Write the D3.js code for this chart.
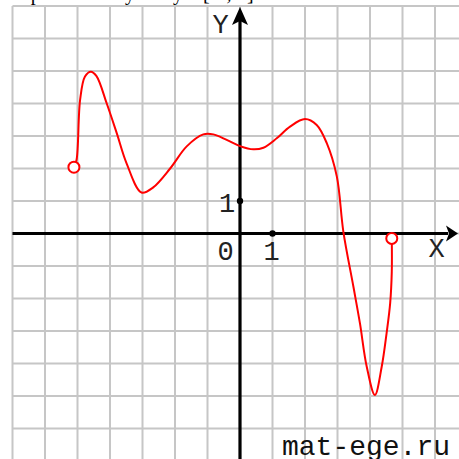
<!DOCTYPE html>
<html>
<head>
<meta charset="utf-8">
<script src="https://cdn.jsdelivr.net/npm/d3@7"></script>
<style>
  body { margin: 0; background: #fff; }
  svg { display: block; }
</style>
</head>
<body>
<svg id="chart"></svg>
<script>
let size = {width: 459, height: 459};

// curve (x, y in grid units)
const curveX = [-5.11, -5.03, -4.92, -4.77, -4.59, -4.42, -4.10, -3.79, -3.49, -3.03, -2.67, -2.15, -1.64, -1.13, -0.82, -0.41, 0.00, 0.41, 0.72, 1.13, 1.54, 2.00, 2.36, 2.67, 2.98, 3.18, 3.49, 3.69, 3.90, 4.15, 4.36, 4.51, 4.62, 4.67, 4.67];
const curveY = [2.04, 2.26, 4.11, 4.83, 4.98, 4.85, 4.00, 3.08, 2.16, 1.26, 1.42, 2.00, 2.68, 3.05, 3.05, 2.88, 2.69, 2.59, 2.64, 2.93, 3.29, 3.52, 3.34, 2.78, 1.75, 0.06, -1.64, -2.76, -4.10, -4.97, -4.10, -3.07, -2.15, -1.18, -0.15];

// open end points
const openX = [-5.11, 4.67];
const openY = [2.04, -0.15];

const gridTicks = d3.range(-7, 8);

// cut-off line of the task text at the very top
const headWords = ["при", "у", "у", "[-5; 5]"];
const headPos = [20, 125, 173, 203];

let svg = d3.select("#chart")
    .attr("width", size.width)
    .attr("height", size.height);

let x = d3.scaleLinear().domain([-7, 7]).range([12.5, 467.5]);
let y = d3.scaleLinear().domain([-7, 7]).range([461, 6]);

/* ---- grid ---- */
let grid = svg.append("g")
    .attr("stroke", "#c6c6c6")
    .attr("stroke-width", 2);

grid.selectAll(".vline")
    .data(gridTicks)
    .join("line")
    .attr("x1", d => x(d)).attr("x2", d => x(d))
    .attr("y1", y(7)).attr("y2", size.height);

grid.selectAll(".hline")
    .data(gridTicks)
    .join("line")
    .attr("y1", d => y(d)).attr("y2", d => y(d))
    .attr("x1", x(-7)).attr("x2", size.width);

/* ---- header text (only descenders are visible) ---- */
svg.selectAll(".head")
    .data(headWords)
    .join("text")
    .attr("x", (d, i) => headPos[i])
    .attr("y", 0)
    .attr("font-family", "Liberation Serif")
    .attr("font-size", 20)
    .attr("fill", "#000")
    .text(d => d);

/* ---- axes ---- */
let axes = svg.append("g").attr("stroke", "#000").attr("stroke-width", 3.2);
axes.append("line")
    .attr("x1", x(-7)).attr("x2", 448)
    .attr("y1", y(0)).attr("y2", y(0));
axes.append("line")
    .attr("x1", x(0)).attr("x2", x(0))
    .attr("y1", size.height).attr("y2", 20);

// arrow heads
svg.append("path")
    .attr("d", `M458,${y(0)} L446,${y(0) - 8} L449,${y(0)} L446,${y(0) + 8} Z`)
    .attr("fill", "#000");
svg.append("path")
    .attr("d", `M${x(0)},7 L${x(0) - 8},25 L${x(0)},21 L${x(0) + 8},25 Z`)
    .attr("fill", "#000");

// unit ticks
svg.append("circle").attr("cx", x(1)).attr("cy", y(0)).attr("r", 3.2).attr("fill", "#000");
svg.append("circle").attr("cx", x(0)).attr("cy", y(1)).attr("r", 3.2).attr("fill", "#000");

/* ---- labels ---- */
const labelFont = "Liberation Mono";
let labels = [
    {t: "Y", x: 220.5, y: 33},
    {t: "X", x: 436.5, y: 257},
    {t: "0", x: 225.5, y: 260},
    {t: "1", x: 271.5, y: 260},
    {t: "1", x: 227, y: 212}
];
svg.selectAll(".lbl")
    .data(labels)
    .join("text")
    .attr("x", d => d.x)
    .attr("y", d => d.y)
    .attr("text-anchor", "middle")
    .attr("font-family", labelFont)
    .attr("font-size", 27)
    .attr("fill", "#222")
    .text(d => d.t);

/* ---- function graph ---- */
let line = d3.line()
    .x(d => x(d[0]))
    .y(d => y(d[1]))
    .curve(d3.curveCatmullRom.alpha(0.5));

svg.append("path")
    .datum(curveX.map((v, i) => [v, curveY[i]]))
    .attr("d", line)
    .attr("fill", "none")
    .attr("stroke", "#ff0000")
    .attr("stroke-width", 2);

svg.selectAll(".open")
    .data(openX.map((v, i) => [v, openY[i]]))
    .join("circle")
    .attr("cx", d => x(d[0]))
    .attr("cy", d => y(d[1]))
    .attr("r", 5.5)
    .attr("fill", "#fff")
    .attr("stroke", "#ff0000")
    .attr("stroke-width", 2);

/* ---- watermark ---- */
svg.append("text")
    .attr("x", 282)
    .attr("y", 455)
    .attr("font-family", labelFont)
    .attr("font-size", 28)
    .attr("fill", "#111")
    .text("mat-ege.ru");
</script>
</body>
</html>
